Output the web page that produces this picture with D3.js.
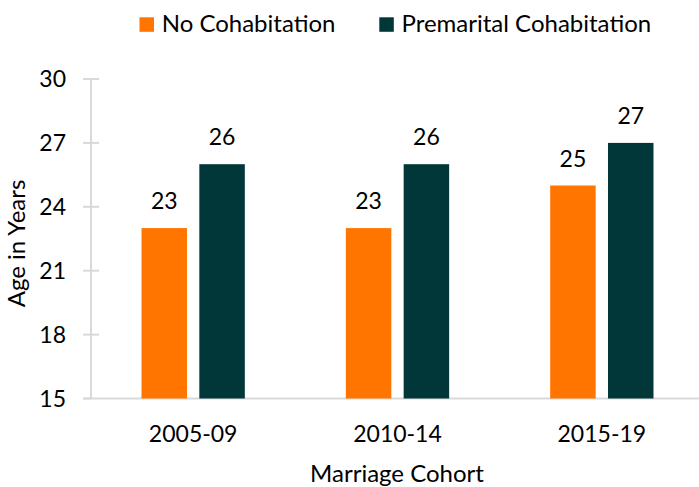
<!DOCTYPE html>
<html>
<head>
<meta charset="utf-8">
<script src="https://cdn.jsdelivr.net/npm/d3@7"></script>
<style>
  body { margin: 0; background: #fff; }
  text { font-family: "Lato", "Open Sans", sans-serif; fill: #000; }
</style>
</head>
<body>
<svg width="699" height="487"></svg>
<script>
// chart data
var cohorts = ["2005-09", "2010-14", "2015-19"];
var series = ["No Cohabitation", "Premarital Cohabitation"];
var noCohab = [23, 23, 25];
var premarital = [26, 26, 27];
var yTicks = [15, 18, 21, 24, 27, 30];

var colors = { "No Cohabitation": "#ff7500", "Premarital Cohabitation": "#023739" };

var svg = d3.select("svg");
var fs = 23;   // numbers
var fsw = 24;  // words

var rows = cohorts.map(function (c, i) {
  return { cohort: c, values: [
    { key: series[0], value: noCohab[i] },
    { key: series[1], value: premarital[i] }
  ]};
});

var x0 = d3.scaleBand().domain(cohorts).range([91, 704]);
var x1 = d3.scaleBand().domain(series)
  .range([0, x0.bandwidth()])
  .paddingInner(0.213)
  .paddingOuter(0.874);
var y = d3.scaleLinear().domain([15, 30]).range([398.5, 79]);

// y axis: line with ticks crossing it
var yAxisG = svg.append("g").attr("transform", "translate(91,0)");
yAxisG.append("line")
  .attr("x1", 0).attr("x2", 0)
  .attr("y1", y(30)).attr("y2", y(15))
  .attr("stroke", "#d9d9d9").attr("stroke-width", 2);
yAxisG.selectAll(".tk").data(yTicks).enter().append("line")
  .attr("x1", -8).attr("x2", function (d) { return d == 15 ? 0 : 8; })
  .attr("y1", function (d) { return y(d); })
  .attr("y2", function (d) { return y(d); })
  .attr("stroke", "#d9d9d9").attr("stroke-width", 2);
yAxisG.selectAll(".lb").data(yTicks).enter().append("text")
  .attr("x", -25)
  .attr("y", function (d) { return y(d); })
  .attr("dy", "0.36em")
  .attr("text-anchor", "end")
  .style("font-size", fs + "px")
  .text(function (d) { return d; });

// x axis baseline
svg.append("line")
  .attr("x1", 83).attr("x2", 699)
  .attr("y1", y(15)).attr("y2", y(15))
  .attr("stroke", "#d9d9d9").attr("stroke-width", 2);

svg.append("g").selectAll("text").data(cohorts).enter().append("text")
  .attr("x", function (d) { return x0(d) + x0.bandwidth() / 2; })
  .attr("y", 441.5)
  .attr("text-anchor", "middle")
  .style("font-size", fs + "px")
  .text(function (d) { return d; });

// bars
var groups = svg.selectAll(".grp").data(rows).enter().append("g")
  .attr("class", "grp")
  .attr("transform", function (d) { return "translate(" + x0(d.cohort) + ",0)"; });

groups.selectAll("rect").data(function (d) { return d.values; }).enter().append("rect")
  .attr("x", function (d) { return x1(d.key); })
  .attr("width", x1.bandwidth())
  .attr("y", function (d) { return y(d.value); })
  .attr("height", function (d) { return y(15) - y(d.value); })
  .attr("fill", function (d) { return colors[d.key]; });

groups.selectAll(".val").data(function (d) { return d.values; }).enter().append("text")
  .attr("x", function (d) { return x1(d.key) + x1.bandwidth() / 2; })
  .attr("y", function (d) { return y(d.value) - 19; })
  .attr("text-anchor", "middle")
  .style("font-size", fs + "px")
  .text(function (d) { return d.value; });

// axis titles
svg.append("text")
  .attr("x", 397).attr("y", 481.5)
  .attr("text-anchor", "middle")
  .style("font-size", fsw + "px")
  .text("Marriage Cohort");

svg.append("text")
  .attr("transform", "translate(25,243.5) rotate(-90)")
  .attr("text-anchor", "middle")
  .style("font-size", fsw + "px")
  .text("Age in Years");

// legend
var legendX = [139.5, 379.3];
var legend = svg.selectAll(".leg").data(series).enter().append("g")
  .attr("transform", function (d, i) { return "translate(" + legendX[i] + ",0)"; });
legend.append("rect")
  .attr("x", 0).attr("y", 17.3)
  .attr("width", 14.5).attr("height", 14.5)
  .attr("fill", function (d) { return colors[d]; });
legend.append("text")
  .attr("x", 22.2).attr("y", 32)
  .style("font-size", fsw + "px")
  .text(function (d) { return d; });
</script>
</body>
</html>
